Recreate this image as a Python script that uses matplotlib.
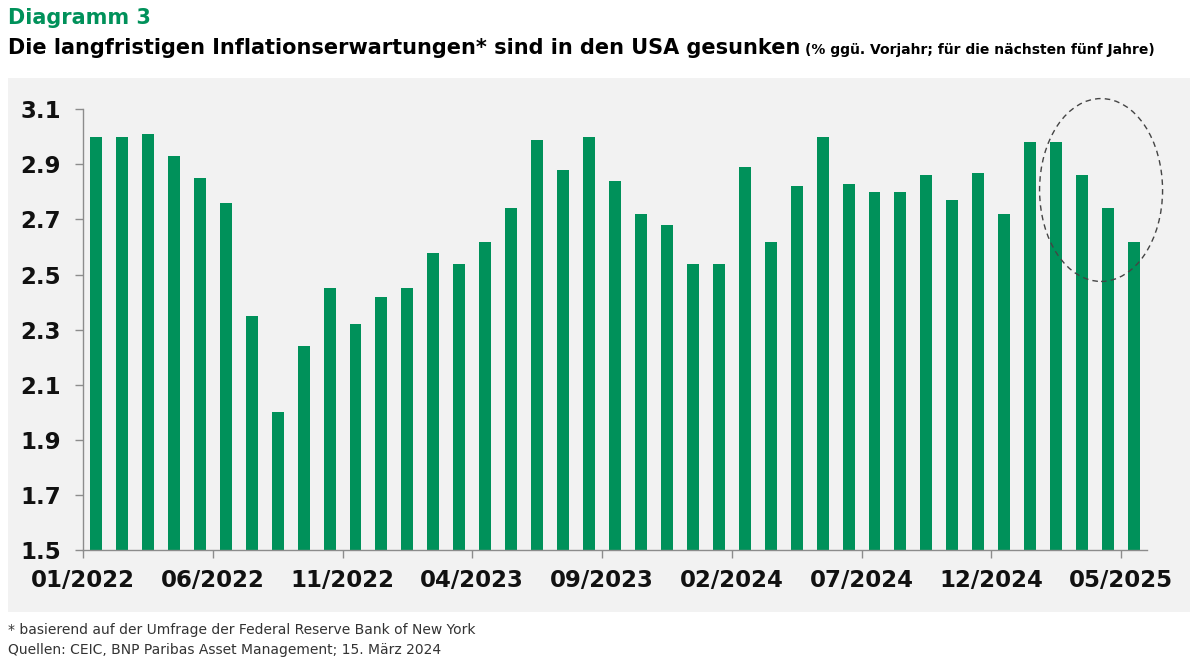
import matplotlib.pyplot as plt
from matplotlib.patches import Rectangle, Ellipse
import numpy as np

# Monatswerte 01/2022 - 05/2025 (% ggü. Vorjahr, 5 Jahre)
months = [f"{m:02d}/{y}" for y in (2022, 2023, 2024, 2025) for m in range(1, 13)][:41]
values = [3.00, 3.00, 3.01, 2.93, 2.85, 2.76, 2.35, 2.00, 2.24, 2.45,
          2.32, 2.42, 2.45, 2.58, 2.54, 2.62, 2.74, 2.99, 2.88, 3.00,
          2.84, 2.72, 2.68, 2.54, 2.54, 2.89, 2.62, 2.82, 3.00, 2.83,
          2.80, 2.80, 2.86, 2.77, 2.87, 2.72, 2.98, 2.98, 2.86, 2.74, 2.62]
yticks = [1.5, 1.7, 1.9, 2.1, 2.3, 2.5, 2.7, 2.9, 3.1]

GREEN = '#00915A'
GRAY_BG = '#f2f2f2'
AXIS = '#8c8c8c'

plt.rcParams['font.family'] = ['DejaVu Sans']

fig = plt.figure(figsize=(11.94, 6.6), dpi=100)
fig.patch.set_facecolor('white')

# grauer Hintergrund des Diagrammbereichs
fig.add_artist(Rectangle((8 / 1194, 1 - 612 / 660), (1190 - 8) / 1194, (612 - 78) / 660,
                         transform=fig.transFigure, facecolor=GRAY_BG,
                         edgecolor='none', zorder=0))

ax = fig.add_axes([83 / 1194, 1 - 550 / 660, (1147 - 83) / 1194, (550 - 109.3) / 660])
ax.set_facecolor('none')

x = np.arange(len(values))
ax.bar(x, values, width=0.46, color=GREEN, zorder=2)

ax.set_xlim(-0.5, len(values) - 0.5)
ax.set_ylim(1.5, 3.1)
ax.set_yticks(yticks)
ax.set_yticklabels([f"{v:.1f}" for v in yticks])

tick_idx = list(range(0, len(values), 5))
ax.set_xticks([i - 0.5 for i in tick_idx])
ax.set_xticklabels([months[i] for i in tick_idx])

for s in ['top', 'right']:
    ax.spines[s].set_visible(False)
for s in ['left', 'bottom']:
    ax.spines[s].set_color(AXIS)
    ax.spines[s].set_linewidth(1.0)
ax.tick_params(axis='both', colors=AXIS, length=6, width=1.0, labelcolor='#111111',
               labelsize=16.5)
ax.tick_params(axis='x', pad=8)
ax.tick_params(axis='y', pad=10)
for lbl in ax.get_xticklabels() + ax.get_yticklabels():
    lbl.set_fontweight('bold')

# gestrichelte Ellipse um die letzten Monate
ax.add_patch(Ellipse((38.73, 2.807), 4.74, 0.664, fill=False, edgecolor='#444444',
                     linestyle=(0, (4, 3)), linewidth=1.0, clip_on=False, zorder=3))

fig.text(8 / 1194, 1 - 18 / 660, 'Diagramm 3', color=GREEN, fontsize=15,
         fontweight='bold', va='center', ha='left')
title = fig.text(8 / 1194, 1 - 48 / 660,
                 'Die langfristigen Inflationserwartungen* sind in den USA gesunken',
                 color='black', fontsize=15, fontweight='bold', va='center', ha='left')

# Untertitel direkt hinter dem Titel
renderer = fig.canvas.get_renderer()
bb = title.get_window_extent(renderer)
fig.text(bb.x1 / fig.bbox.width + 5 / 1194, 1 - 50 / 660,
         '(% ggü. Vorjahr; für die nächsten fünf Jahre)',
         color='black', fontsize=10, fontweight='bold', va='center', ha='left')

fig.text(8 / 1194, 1 - 630 / 660,
         '* basierend auf der Umfrage der Federal Reserve Bank of New York',
         color='#333333', fontsize=10, va='center', ha='left')
fig.text(8 / 1194, 1 - 650 / 660,
         'Quellen: CEIC, BNP Paribas Asset Management; 15. März 2024',
         color='#333333', fontsize=10, va='center', ha='left')

fig.savefig('out.png', dpi=100)
